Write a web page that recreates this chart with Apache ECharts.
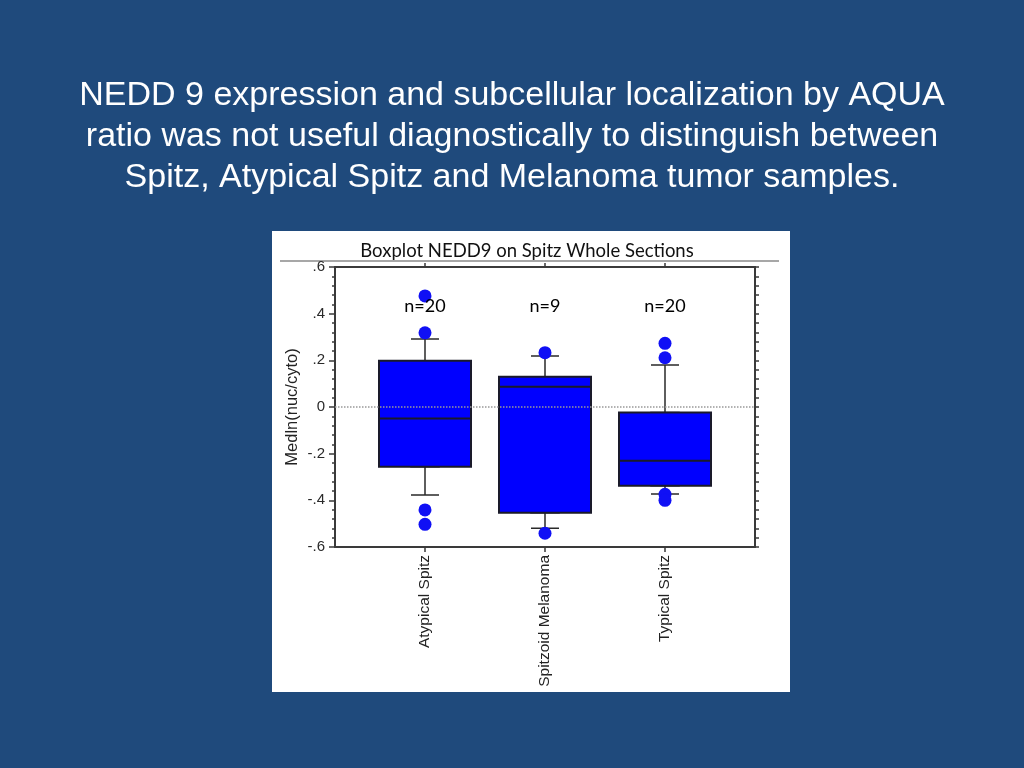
<!DOCTYPE html>
<html>
<head>
<meta charset="utf-8">
<script src="https://cdn.jsdelivr.net/npm/echarts@6/dist/echarts.min.js"></script>
<style>
html,body{margin:0;padding:0;background:#1f4a7c;}
#chart{width:1024px;height:768px;}
</style>
</head>
<body>
<div id="chart"></div>
<script>
// ---- data ----
const slideTitle = 'NEDD 9 expression and subcellular localization by AQUA\nratio was not useful diagnostically to distinguish between\nSpitz, Atypical Spitz and Melanoma tumor samples.';
const chartTitle = 'Boxplot NEDD9 on Spitz Whole Sections';
const categories = ['Atypical Spitz', 'Spitzoid Melanoma', 'Typical Spitz'];
const whiskerLow  = [-0.377, -0.520, -0.373];
const q1          = [-0.256, -0.453, -0.337];
const median      = [-0.049,  0.087, -0.230];
const q3          = [ 0.198,  0.130, -0.024];
const whiskerHigh = [ 0.291,  0.219,  0.180];
const outliers = [
  [0, 0.476], [0, 0.318], [0, -0.441], [0, -0.503],
  [1, 0.233], [1, -0.541],
  [2, 0.273], [2, 0.211], [2, -0.374], [2, -0.400]
];
const nLabels = ['n=20', 'n=9', 'n=20'];
const nLabelY = 0.433;
const yTickLabels = ['-.6', '-.4', '-.2', '0', '.2', '.4', '.6'];
const yAxisName = 'Medln(nuc/cyto)';

// ---- build ----
const catIdx = categories.map((c, i) => i);
const whiskerData = catIdx.map(i => [i, whiskerLow[i], q1[i], median[i], q3[i], whiskerHigh[i]]);
const boxData = catIdx.map(i => [i, q1[i], q1[i], median[i], q3[i], q3[i]]);
const nData = catIdx.map(i => ({ value: [i, nLabelY], label: { formatter: nLabels[i] } }));

const axisLineStyle = { color: '#3a3a3a', width: 2 };
const chart = echarts.init(document.getElementById('chart'));
chart.setOption({
  backgroundColor: '#1f4a7c',
  animation: false,
  title: {
    text: slideTitle,
    left: 'center',
    top: 70,
    textStyle: {
      color: '#ffffff',
      fontFamily: 'Liberation Sans',
      fontWeight: 'normal',
      fontSize: 34,
      lineHeight: 41,
      align: 'center'
    }
  },
  graphic: [
    { type: 'rect', z: -10, shape: { x: 272, y: 231, width: 518, height: 461 }, style: { fill: '#ffffff' } },
    { type: 'line', z: -5, shape: { x1: 280, y1: 261, x2: 779, y2: 261 }, style: { stroke: '#8a8a8a', lineWidth: 1.5 } },
    { type: 'text', z: 10, x: 527, y: 251, style: { text: chartTitle, fill: '#111', font: '18.5px Lato', align: 'center', verticalAlign: 'middle' } }
  ],
  grid: { left: 335, right: 269, top: 267, bottom: 221 },
  xAxis: [
    {
      type: 'value', position: 'bottom', min: -0.75, max: 2.75,
      axisLine: { show: true, onZero: false, lineStyle: axisLineStyle },
      axisTick: { show: true, customValues: catIdx, length: 5, lineStyle: { color: '#3a3a3a', width: 1.5 } },
      axisLabel: {
        customValues: catIdx, rotate: 90, margin: 8,
        formatter: v => categories[Math.round(v)],
        color: '#222', fontFamily: 'Liberation Sans', fontSize: 15.5
      },
      splitLine: { show: false }
    },
    {
      type: 'value', position: 'top', min: -0.75, max: 2.75,
      axisLine: { show: true, onZero: false, lineStyle: axisLineStyle },
      axisTick: { show: true, customValues: catIdx, length: 4, lineStyle: { color: '#3a3a3a', width: 1.5 } },
      axisLabel: { show: false },
      splitLine: { show: false }
    }
  ],
  yAxis: [
    {
      type: 'value', position: 'left', min: -0.6, max: 0.6, interval: 0.2,
      name: yAxisName, nameLocation: 'middle', nameGap: 34, nameRotate: 90,
      nameTextStyle: { color: '#222', fontFamily: 'Liberation Sans', fontSize: 16.5 },
      axisLine: { show: true, onZero: false, lineStyle: axisLineStyle },
      axisTick: { show: true, length: 6, lineStyle: { color: '#3a3a3a', width: 1.5 } },
      minorTick: { show: true, splitNumber: 5, length: 3, lineStyle: { color: '#3a3a3a', width: 1.5 } },
      axisLabel: {
        margin: 10,
        formatter: (v, i) => yTickLabels[i],
        color: '#2a2a2a', fontFamily: 'Liberation Sans', fontSize: 15
      },
      splitLine: { show: false }
    },
    {
      type: 'value', position: 'right', min: -0.6, max: 0.6, interval: 0.2,
      axisLine: { show: true, onZero: false, lineStyle: axisLineStyle },
      axisTick: { show: true, length: 4, lineStyle: { color: '#3a3a3a', width: 1.5 } },
      minorTick: { show: true, splitNumber: 5, length: 4, lineStyle: { color: '#3a3a3a', width: 1.5 } },
      axisLabel: { show: false },
      splitLine: { show: false }
    }
  ],
  series: [
    {
      name: 'zero', type: 'line', data: [], xAxisIndex: 0, yAxisIndex: 0,
      markLine: {
        silent: true, symbol: 'none', label: { show: false },
        lineStyle: { color: '#999', type: 'dotted', width: 1.5 },
        data: [{ yAxis: 0 }]
      }
    },
    {
      name: 'whiskers', type: 'boxplot', data: whiskerData, xAxisIndex: 0,
      boxWidth: [28, 28],
      itemStyle: { color: '#0000ff', borderColor: '#2a2a2a', borderWidth: 1.5 }
    },
    {
      name: 'boxes', type: 'boxplot', data: boxData, xAxisIndex: 1, z: 3,
      boxWidth: [92, 92],
      itemStyle: { color: '#0000ff', borderColor: '#1a1a2a', borderWidth: 2 }
    },
    {
      name: 'outliers', type: 'scatter', data: outliers,
      symbolSize: 13, z: 5,
      itemStyle: { color: '#1010f5', opacity: 1 }
    },
    {
      name: 'n', type: 'scatter', data: nData, symbolSize: 0, z: 6,
      itemStyle: { opacity: 1 },
      label: { show: true, position: 'inside', color: '#000', fontFamily: 'Lato', fontSize: 18 }
    }
  ]
});
</script>
</body>
</html>
